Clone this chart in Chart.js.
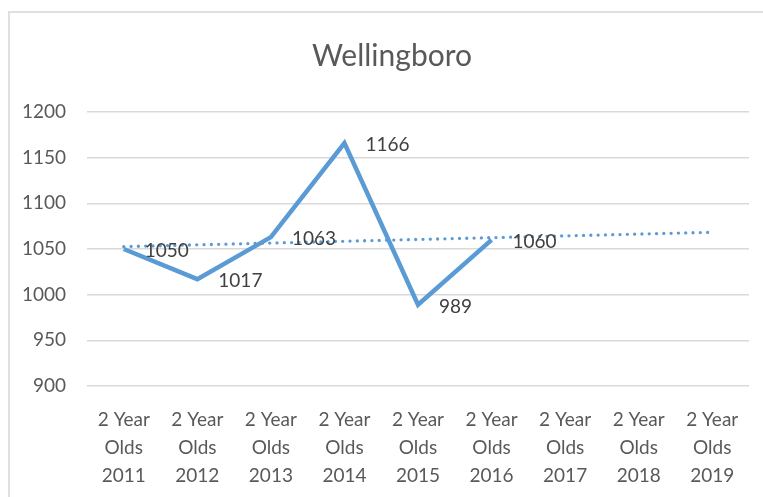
<!DOCTYPE html>
<html>
<head>
<meta charset="utf-8">
<script src="https://cdn.jsdelivr.net/npm/chart.js@4/dist/chart.umd.min.js"></script>
<style>
  html, body { margin: 0; padding: 0; background: #fff; overflow: hidden; }
  #wrap { position: relative; width: 763px; height: 497px; }
  #frame { position: absolute; left: 8px; top: 11px; width: 800px; height: 520px;
           border: 2px solid #e0e0e0; box-sizing: border-box; }
  canvas { position: absolute; left: 0; top: 0; }
</style>
</head>
<body>
<div id="wrap">
  <div id="frame"></div>
  <canvas id="chart" width="763" height="497"></canvas>
</div>
<script>
const categories = [
    ["2 Year", "Olds", "2011"], ["2 Year", "Olds", "2012"], ["2 Year", "Olds", "2013"],
    ["2 Year", "Olds", "2014"], ["2 Year", "Olds", "2015"], ["2 Year", "Olds", "2016"],
    ["2 Year", "Olds", "2017"], ["2 Year", "Olds", "2018"], ["2 Year", "Olds", "2019"]
];
const pupils = [1050, 1017, 1063, 1166, 989, 1060, null, null, null];
// linear trendline (start and end)
const trend = [1052.6, null, null, null, null, null, null, null, 1068.3];
const yTicks = [900, 950, 1000, 1050, 1100, 1150, 1200];
const chartTitle = "Wellingboro";

const labelFont = "Lato, 'Open Sans', sans-serif";

// title + value labels next to each point (Excel "right" data labels)
const decorations = {
    id: "decorations",
    afterDatasetsDraw(chart) {
        const ctx = chart.ctx;
        ctx.save();
        ctx.font = "30px " + labelFont;
        ctx.fillStyle = "#595959";
        ctx.textAlign = "center";
        ctx.textBaseline = "middle";
        ctx.fillText(chartTitle, 392, 56);

        const meta = chart.getDatasetMeta(0);
        ctx.font = "19px " + labelFont;
        ctx.fillStyle = "#404040";
        ctx.textAlign = "left";
        meta.data.forEach((pt, i) => {
            if (pupils[i] == null) return;
            ctx.fillText(String(pupils[i]), pt.x + 21, pt.y + 2);
        });
        ctx.restore();
    }
};

new Chart(document.getElementById("chart").getContext("2d"), {
    type: "line",
    data: {
        labels: categories,
        datasets: [{
            label: "Wellingboro",
            data: pupils,
            borderColor: "#5b9bd5",
            borderWidth: 4.5,
            pointRadius: 0,
            tension: 0,
            spanGaps: false,
            order: 1
        }, {
            label: "Trend",
            data: trend,
            borderColor: "#5b9bd5",
            borderWidth: 3.3,
            borderDash: [0, 7.3],
            borderCapStyle: "round",
            pointRadius: 0,
            spanGaps: true,
            order: 2
        }]
    },
    options: {
        responsive: false,
        animation: false,
        layout: { padding: { left: 0, right: 14, top: 112, bottom: 0 } },
        plugins: {
            legend: { display: false },
            tooltip: { enabled: false },
            title: { display: false }
        },
        scales: {
            x: {
                offset: true,
                grid: { display: false, drawTicks: false },
                border: { display: false },
                ticks: {
                    color: "#595959",
                    font: { family: labelFont, size: 19, lineHeight: 1.47 },
                    padding: 20,
                    maxRotation: 0,
                    autoSkip: false
                },
                afterFit(scale) { scale.height = 497 - 386; }
            },
            y: {
                min: 900,
                max: 1200,
                afterBuildTicks(scale) { scale.ticks = yTicks.map(v => ({ value: v })); },
                grid: { color: "#d9d9d9", lineWidth: 1.5, drawTicks: false },
                border: { display: false },
                ticks: {
                    color: "#595959",
                    font: { family: labelFont, size: 19 },
                    padding: 21,
                    callback: v => String(v)
                },
                afterFit(scale) { scale.width = 87; }
            }
        }
    },
    plugins: [decorations]
});
</script>
</body>
</html>
